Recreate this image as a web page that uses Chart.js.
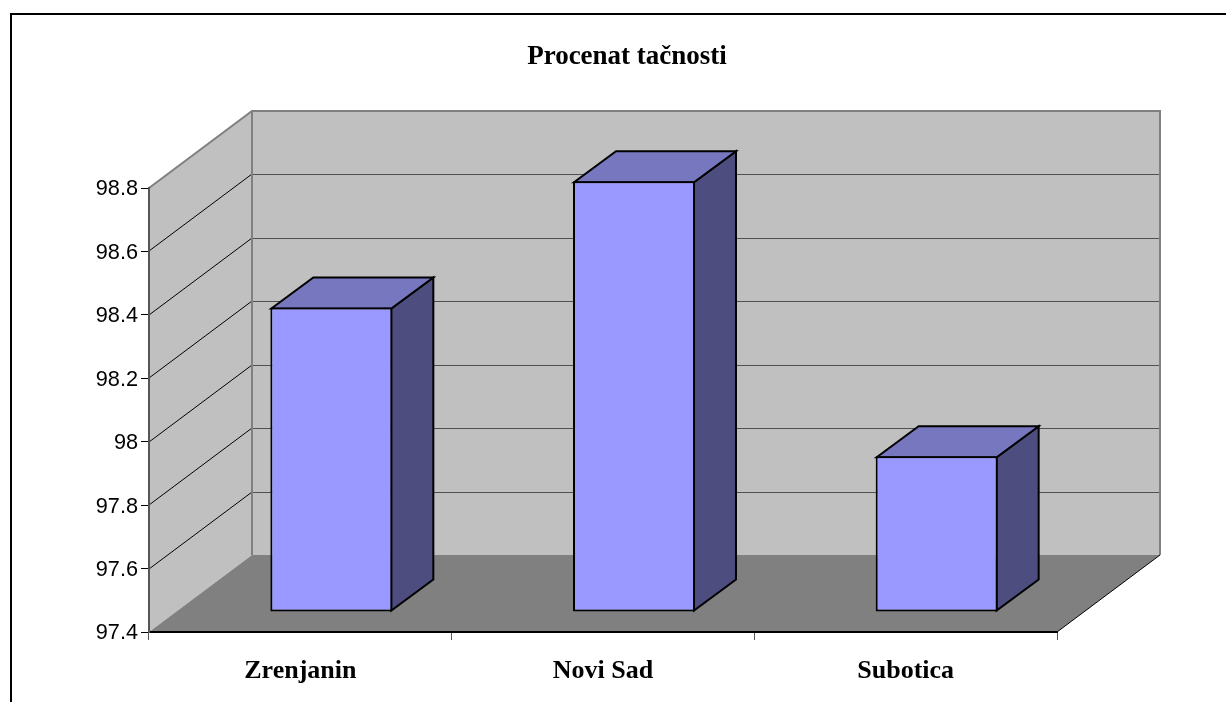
<!DOCTYPE html>
<html>
<head>
<meta charset="utf-8">
<title>Procenat tačnosti</title>
<script src="https://cdn.jsdelivr.net/npm/chart.js@4"></script>
<style>
    html, body { margin: 0; padding: 0; background: #fff; overflow: hidden; }
    #wrap { position: relative; width: 1226px; height: 702px; }
    #frame { position: absolute; left: 10px; top: 13px; right: 0; bottom: 0; border-left: 2px solid #000; border-top: 2px solid #000; }
    canvas { position: absolute; left: 0; top: 0; }
</style>
</head>
<body>
<div id="wrap">
    <div id="frame"></div>
    <canvas id="myChart" width="1226" height="702"></canvas>
</div>
<script>
const categories = ['Zrenjanin', 'Novi Sad', 'Subotica'];
const accuracy = [98.36, 98.758, 97.891];
const yTicks = [97.4, 97.6, 97.8, 98, 98.2, 98.4, 98.6, 98.8];
const chartTitle = 'Procenat tačnosti';

// depth of the box and of the bars, in pixels
const WALL_DX = 103, WALL_DY = -77;
const BAR_DX = 42, BAR_DY = -31;
const BAR_SHIFT_X = 31, BAR_SHIFT_Y = -20;

function poly(ctx, pts, fill, stroke, width) {
    ctx.beginPath();
    pts.forEach((p, i) => i ? ctx.lineTo(p[0], p[1]) : ctx.moveTo(p[0], p[1]));
    ctx.closePath();
    if (fill) { ctx.fillStyle = fill; ctx.fill(); }
    if (stroke) { ctx.strokeStyle = stroke; ctx.lineWidth = width; ctx.lineJoin = 'miter'; ctx.stroke(); }
}

const box3d = {
    id: 'box3d',
    afterLayout(chart) {
        // title sits over the whole box, not over the front axis
        chart.titleBlock.right += 108;
    },
    beforeDraw(chart) {
        const { ctx, chartArea: a, scales } = chart;
        const dx = WALL_DX, dy = WALL_DY;
        ctx.save();
        // side wall, back wall, floor
        poly(ctx, [[a.left, a.top], [a.left + dx, a.top + dy], [a.left + dx, a.bottom + dy], [a.left, a.bottom]], '#c0c0c0');
        poly(ctx, [[a.left + dx, a.top + dy], [a.right + dx, a.top + dy], [a.right + dx, a.bottom + dy], [a.left + dx, a.bottom + dy]], '#c0c0c0');

        ctx.lineWidth = 1;
        yTicks.forEach(v => {
            if (v === yTicks[0] || v === yTicks[yTicks.length - 1]) return;
            const y = Math.round(scales.y.getPixelForValue(v));
            ctx.strokeStyle = '#000';
            ctx.beginPath();
            ctx.moveTo(a.left, y);
            ctx.lineTo(a.left + dx, y + dy);
            ctx.stroke();
            ctx.strokeStyle = '#505050';
            ctx.beginPath();
            ctx.moveTo(a.left + dx, y + dy + 0.5);
            ctx.lineTo(a.right + dx, y + dy + 0.5);
            ctx.stroke();
        });

        ctx.strokeStyle = '#808080';
        ctx.lineWidth = 2;
        ctx.beginPath();
        ctx.moveTo(a.left, a.top);
        ctx.lineTo(a.left + dx, a.top + dy);
        ctx.lineTo(a.right + dx, a.top + dy);
        ctx.lineTo(a.right + dx, a.bottom + dy);
        ctx.moveTo(a.left + dx, a.top + dy);
        ctx.lineTo(a.left + dx, a.bottom + dy);
        ctx.stroke();

        poly(ctx, [[a.left, a.bottom], [a.left + dx, a.bottom + dy], [a.right + dx, a.bottom + dy], [a.right, a.bottom]], '#808080');
        ctx.strokeStyle = '#000';
        ctx.lineWidth = 1;
        ctx.beginPath();
        ctx.moveTo(a.right, a.bottom);
        ctx.lineTo(a.right + dx, a.bottom + dy);
        ctx.stroke();
        ctx.restore();
    },
    beforeDatasetDraw(chart, args) {
        const ctx = chart.ctx;
        ctx.save();
        ctx.translate(BAR_SHIFT_X, BAR_SHIFT_Y);
        args.meta.data.forEach(bar => {
            const l = bar.x - bar.width / 2, r = bar.x + bar.width / 2 - 1;
            const t = bar.y + 1, b = bar.base - 1;
            poly(ctx, [[r, t], [r + BAR_DX, t + BAR_DY], [r + BAR_DX, b + BAR_DY], [r, b]], '#4d4d80', '#000', 2);
            poly(ctx, [[l + 1, t], [l + 1 + BAR_DX, t + BAR_DY], [r + BAR_DX, t + BAR_DY], [r, t]], '#7777bf', '#000', 2);
        });
    },
    afterDatasetDraw(chart) {
        chart.ctx.restore();
    }
};

new Chart(document.getElementById('myChart'), {
    type: 'bar',
    data: {
        labels: categories,
        datasets: [{
            label: chartTitle,
            data: accuracy,
            base: yTicks[0],
            backgroundColor: '#9999ff',
            borderColor: '#000',
            borderWidth: 2,
            borderSkipped: false,
            categoryPercentage: 1,
            barPercentage: 0.403,
            clip: false
        }]
    },
    options: {
        responsive: false,
        animation: false,
        layout: { padding: { left: 89, right: 169, top: 0, bottom: 0 } },
        plugins: {
            legend: { display: false },
            tooltip: { enabled: false },
            title: {
                display: true,
                text: chartTitle,
                color: '#000',
                align: 'center',
                font: { family: '"Liberation Serif"', size: 27, weight: 'bold', lineHeight: 1.2 },
                padding: { top: 41, bottom: 114.6 }
            }
        },
        scales: {
            x: {
                afterFit(scale) { scale.height = 70; },
                grid: { drawOnChartArea: false, color: '#000', tickColor: '#555', tickLength: 8 },
                border: { color: '#000', width: 2 },
                ticks: {
                    color: '#000',
                    maxRotation: 0,
                    autoSkip: false,
                    padding: 16,
                    font: { family: '"Liberation Serif"', size: 26, weight: 'bold' }
                }
            },
            y: {
                min: 97.4,
                max: 98.8,
                afterFit(scale) { scale.width = 60; },
                afterBuildTicks(scale) { scale.ticks = yTicks.map(v => ({ value: v })); },
                grid: { drawOnChartArea: false, color: '#000', tickColor: '#000', tickLength: 8 },
                border: { color: '#555', width: 2 },
                ticks: {
                    color: '#000',
                    padding: 3,
                    autoSkip: false,
                    labelOffset: 1.5,
                    callback: v => String(v),
                    font: { family: '"Liberation Sans"', size: 21.7 }
                }
            }
        }
    },
    plugins: [box3d]
});
</script>
</body>
</html>
